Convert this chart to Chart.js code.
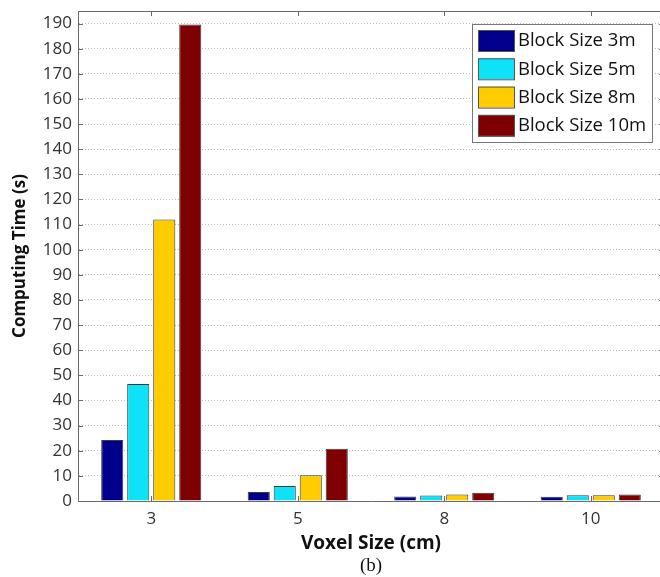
<!DOCTYPE html>
<html>
<head>
<meta charset="utf-8">
<script src="https://cdn.jsdelivr.net/npm/chart.js@4/dist/chart.umd.min.js"></script>
<style>
  html, body { margin: 0; padding: 0; background: #fff; overflow: hidden; }
  #wrap { position: relative; width: 668px; height: 577px; }
</style>
</head>
<body>
<div id="wrap"><canvas id="c" width="668" height="577"></canvas></div>
<script>
// Voxel sizes (cm) along the x axis
const voxelSizes = ['3', '5', '8', '10'];
// Computing time (s) per block size
const block3m  = [24.3, 3.6, 1.8, 1.7];
const block5m  = [46.6, 6.0, 2.2, 2.3];
const block8m  = [112.0, 10.2, 2.6, 2.3];
const block10m = [189.6, 20.8, 3.3, 2.6];
const seriesLabels = ['Block Size 3m', 'Block Size 5m', 'Block Size 8m', 'Block Size 10m'];
const seriesColors = ['#00008C', '#0DE2F8', '#FFCC00', '#7F0000'];
// Y axis tick values (s)
const yTickValues = [0, 10, 20, 30, 40, 50, 60, 70, 80, 90, 100, 110, 120, 130, 140, 150, 160, 170, 180, 190];

const axisColor = '#6a6a6a';
const textColor = '#333333';
const uiFont = '"Open Sans", "DejaVu Sans", sans-serif';

// Box around the plot, inward tick marks, the legend and the panel caption
const framePlugin = {
  id: 'frame',
  afterDatasetsDraw(chart) {
    const { ctx, chartArea: a, scales: { x, y } } = chart;
    ctx.save();
    ctx.strokeStyle = axisColor;
    ctx.lineWidth = 1;
    // top and right edges
    ctx.beginPath();
    ctx.moveTo(a.left, a.top + 0.5);
    ctx.lineTo(a.right, a.top + 0.5);
    ctx.moveTo(a.right - 0.5, a.top);
    ctx.lineTo(a.right - 0.5, a.bottom);
    ctx.stroke();
    // inward ticks on x (top and bottom)
    ctx.beginPath();
    x.ticks.forEach((t, i) => {
      const px = Math.round(x.getPixelForTick(i)) + 0.5;
      ctx.moveTo(px, a.top); ctx.lineTo(px, a.top + 5);
      ctx.moveTo(px, a.bottom); ctx.lineTo(px, a.bottom - 5);
    });
    // inward ticks on y (left and right)
    y.ticks.forEach(t => {
      const py = Math.round(y.getPixelForValue(t.value)) + 0.5;
      ctx.moveTo(a.left, py); ctx.lineTo(a.left + 5, py);
      ctx.moveTo(a.right, py); ctx.lineTo(a.right - 5, py);
    });
    ctx.stroke();

    // legend
    const lx = 472, ly = 24, lw = 180, lh = 118;
    ctx.fillStyle = '#fff';
    ctx.fillRect(lx, ly, lw, lh);
    ctx.strokeStyle = '#777';
    ctx.strokeRect(lx + 0.5, ly + 0.5, lw, lh);
    ctx.font = '18.5px ' + uiFont;
    ctx.textBaseline = 'middle';
    ctx.textAlign = 'left';
    chart.data.datasets.forEach((ds, i) => {
      const rowY = ly + 6 + i * 28.3;
      ctx.fillStyle = ds.backgroundColor;
      ctx.fillRect(lx + 6, rowY, 36, 21);
      ctx.strokeStyle = '#555';
      ctx.strokeRect(lx + 6.5, rowY + 0.5, 36, 21);
      ctx.fillStyle = '#111';
      ctx.fillText(ds.label, lx + 46, rowY + 11);
    });

    // panel caption
    ctx.font = '19px "Liberation Serif", "Times New Roman", serif';
    ctx.fillStyle = '#111';
    ctx.textAlign = 'center';
    ctx.fillText('(b)', (a.left + a.right) / 2, 566);
    ctx.restore();
  }
};

const datasets = [block3m, block5m, block8m, block10m].map((vals, i) => ({
  label: seriesLabels[i],
  data: vals,
  backgroundColor: seriesColors[i],
  borderColor: '#3a3a3a',
  borderWidth: 1,
  borderSkipped: 'bottom',
  categoryPercentage: 0.71,
  barPercentage: 0.85
}));

new Chart(document.getElementById('c'), {
  type: 'bar',
  data: { labels: voxelSizes, datasets },
  options: {
    responsive: false,
    animation: false,
    layout: { padding: { left: 0, right: 4, top: 11, bottom: 0 } },
    plugins: {
      legend: { display: false },
      tooltip: { enabled: false }
    },
    scales: {
      x: {
        grid: { display: false, drawTicks: false },
        border: { display: true, color: axisColor, width: 1 },
        ticks: { color: textColor, font: { family: uiFont, size: 17 }, padding: 8 },
        title: {
          display: true,
          text: 'Voxel Size (cm)',
          color: '#111',
          font: { family: uiFont, size: 19, weight: 'bold' },
          padding: { top: 0, bottom: 22 }
        },
        afterFit(scale) {
          scale.height = 76;
          scale.paddingLeft = 0;
          scale.paddingRight = 0;
        }
      },
      y: {
        min: 0,
        max: 195,
        grid: {
          color: '#bcbcbc',
          lineWidth: 1,
          drawTicks: false
        },
        // in Chart.js v4 border.dash styles the grid lines
        border: { display: true, color: axisColor, width: 1, dash: [1, 2] },
        ticks: {
          color: textColor,
          font: { family: uiFont, size: 17 },
          padding: 6
        },
        title: {
          display: true,
          text: 'Computing Time (s)',
          color: '#111',
          font: { family: uiFont, size: 17, weight: 'bold' },
          padding: { top: 10, bottom: 0 }
        },
        afterBuildTicks(scale) {
          scale.ticks = yTickValues.map(v => ({ value: v }));
        },
        afterFit(scale) {
          scale.width = 78;
          scale.paddingTop = 0;
          scale.paddingBottom = 0;
        }
      }
    }
  },
  plugins: [framePlugin]
});
</script>
</body>
</html>
